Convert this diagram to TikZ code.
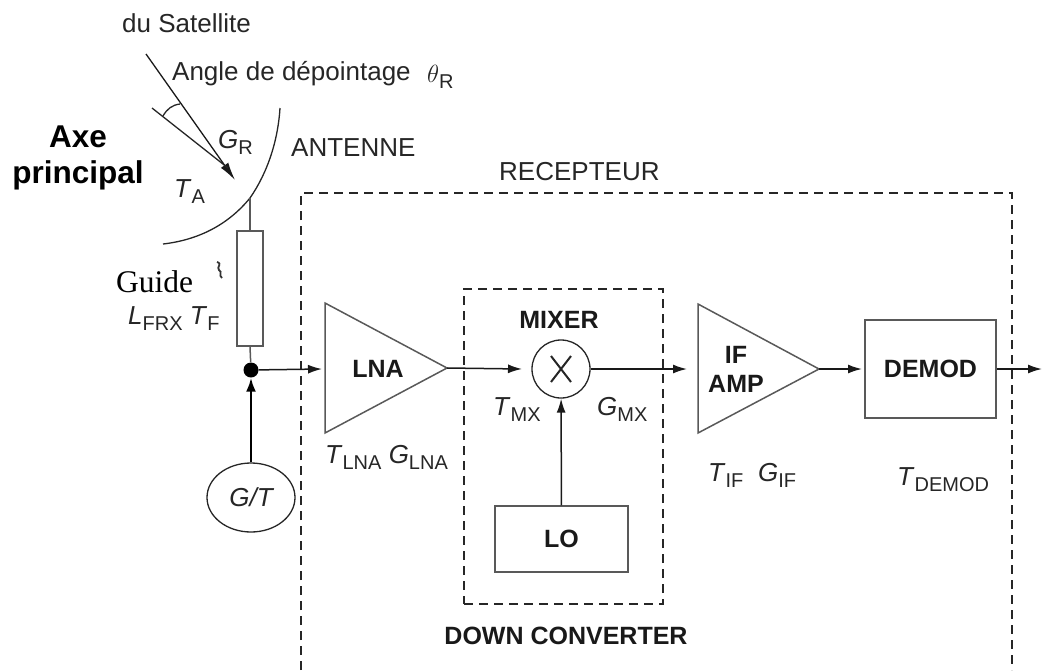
\documentclass[tikz,border=0pt]{standalone}
\usepackage{fontspec}
\setmainfont{Liberation Sans}
\newfontfamily\guidefont{Liberation Serif}
\usetikzlibrary{arrows.meta,shapes.geometric}
\tikzset{
 lbl/.style={font=\fontsize{26}{28}\selectfont,inner sep=0pt,text=black!85,anchor=base west},
 bld/.style={font=\fontsize{25}{29}\selectfont\bfseries,inner sep=0pt,align=center,text=black!90},
 boxline/.style={draw=black!65,line width=1.5pt},
 thinline/.style={draw=black!85,line width=1.3pt},
 dashbox/.style={draw=black!85,line width=1.3pt,dash pattern=on 9pt off 6pt},
 sig/.style={draw=black!90,line width=1.5pt,-{Latex[length=14pt,width=9pt]}},
}
\newcommand{\subt}[1]{\raisebox{-6pt}{\fontsize{20}{22}\selectfont #1}}
\begin{document}
\begin{tikzpicture}[x=1pt,y=-1pt]
\useasboundingbox (0,0) rectangle (1042,670);
% receiver box
\coordinate (rbl) at (301,670); \coordinate (rtl) at (301,193);
\coordinate (rtr) at (1012,193); \coordinate (rbr) at (1012,670);
\draw[dashbox] (rbl) -- (rtl) -- (rtr) -- (rbr);
\node[lbl] (recepteur) at (499,180) {RECEPTEUR};
% mixer box
\node[dashbox,minimum width=199pt,minimum height=315pt,inner sep=0pt] (mixbox) at (563.5,446.5) {};
\node[bld,anchor=base] (mixerlbl) at (559,328) {MIXER};
\node[bld,anchor=base] (dc) at (566,644) {DOWN CONVERTER};
% antenna
\coordinate (dishtop) at (280,108);
\coordinate (dishmid) at (250,198);
\coordinate (dishend) at (163,244);
\draw[thinline] (dishtop) .. controls (278,140) and (268,172) .. (dishmid) .. controls (228,225) and (198,240) .. (dishend);
\coordinate (satstart) at (146,54);
\coordinate (focus) at (235,180);
\coordinate (axestart) at (152,108);
\coordinate (axeend) at (228,168);
\draw[sig,line width=1.3pt,-{Latex[length=18pt,width=9pt]}] (satstart) -- (focus);
\draw[thinline] (axestart) -- (axeend);
\draw[thinline] (163,116) .. controls (167,109) and (172,105) .. (180,104);
% feed
\node[boxline,minimum width=26pt,minimum height=115pt,inner sep=0pt] (feed) at (250,288.5) {};
\draw[boxline] (dishmid) -- (feed.north);
\node[circle,fill=black,minimum size=15pt,inner sep=0pt] (dot) at (251,370) {};
\draw[boxline] (feed.south) -- (dot);
\node[draw=black!85,line width=1.3pt,ellipse,minimum width=88pt,minimum height=69pt,inner sep=0pt,font=\fontsize{26}{28}\selectfont\itshape,text=black!85] (gt) at (251,497.5) {G/T};
\draw[draw=black,line width=2.5pt,-{Latex[length=14pt,width=10pt]}] (gt) -- (dot);
% LNA
\coordinate (lnaa) at (325,303); \coordinate (lnab) at (325,433); \coordinate (lnac) at (447,368);
\draw[boxline] (lnaa) -- (lnac) -- (lnab) -- cycle;
\node[bld] (lna) at (378,369) {LNA};
\coordinate (lnain) at (322,369);
\draw[sig] (dot) -- (lnain);
% mixer
\node[draw=black!85,line width=1.3pt,circle,minimum size=58pt,inner sep=0pt] (mix) at (561,369) {};
\coordinate (mixin) at (522,369);
\draw[line width=2pt,black!85] (mix.center)+(-10,-13) -- +(10,13) (mix.center)+(-10,13) -- +(10,-13);
\draw[sig] (lnac) -- (mixin);
\node[boxline,minimum width=133pt,minimum height=66pt,inner sep=0pt] (lo) at (561.5,539) {};
\node[bld] at (lo) {LO};
\draw[sig] (lo) -- (mix);
% IF AMP
\coordinate (ifa) at (698,304); \coordinate (ifb) at (698,433); \coordinate (ifc) at (819,369);
\draw[boxline] (ifa) -- (ifc) -- (ifb) -- cycle;
\node[bld] (if) at (736,369) {IF\\AMP};
\coordinate (ifin) at (687,369);
\draw[sig] (mix) -- (ifin);
% DEMOD
\node[boxline,minimum width=131pt,minimum height=98pt,inner sep=0pt] (demod) at (930.5,369) {};
\node[bld] at (demod) {DEMOD};
\coordinate (demin) at (862,369);
\draw[sig] (ifc) -- (demin);
\coordinate (out) at (1042,369);
\draw[sig] (demod) -- (out);
% labels
\node[lbl] (sat) at (122,32) {du Satellite};
\node[lbl] (angle) at (172,80) {Angle de dépointage};
\node[lbl] (theta) at (427,82) {$\theta$\subt{R}};
\node[lbl] (gr) at (218,148) {\textit{G}\subt{R}};
\node[lbl] (ant) at (291,156) {ANTENNE};
\node[lbl] (ta) at (174,197) {\textit{T}\subt{A}};
\node[font=\fontsize{31.5}{36}\selectfont\bfseries,align=center,inner sep=0pt,anchor=base] (axe) at (78,183) {Axe\\principal};
\node[font=\fontsize{31.5}{34}\selectfont\guidefont,inner sep=0pt,anchor=base west] (guide) at (116,292) {Guide};
\draw[line width=1.8pt,black!80] (217,262) .. controls (223,264) and (216,267) .. (219,270) .. controls (223,272) and (218,275) .. (222,278);
\node[lbl] (lfrx) at (128,324) {\textit{L}\subt{FRX} \textit{T}\subt{F}};
\node[lbl] (tlna) at (325,463) {\textit{T}\subt{LNA} \textit{G}\subt{LNA}};
\node[lbl] (tmx) at (493,415) {\textit{T}\subt{MX}};
\node[lbl] (gmx) at (597,415) {\textit{G}\subt{MX}};
\node[lbl] (tif) at (708,481) {\textit{T}\subt{IF}};
\node[lbl] (gif) at (758,481) {\textit{G}\subt{IF}};
\node[lbl] (tdem) at (897,485) {\textit{T}\subt{DEMOD}};
\end{tikzpicture}
\end{document}
